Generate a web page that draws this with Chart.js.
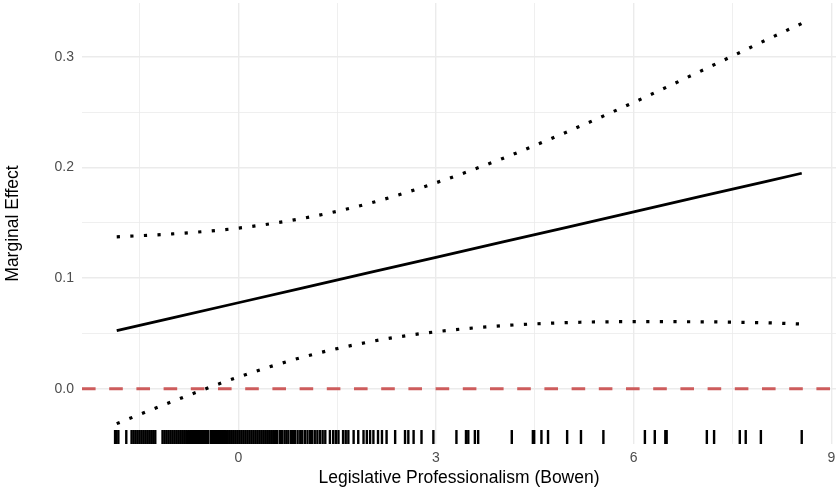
<!DOCTYPE html>
<html>
<head>
<meta charset="utf-8">
<script src="https://cdn.jsdelivr.net/npm/chart.js@4"></script>
<style>
  html, body { margin: 0; padding: 0; background: #fff; }
  canvas { display: block; }
</style>
</head>
<body>
<canvas id="chart" width="836" height="489"></canvas>
<script>
// ===== DATA =====
const xValues = [-1.845, -1, 0, 1, 2, 3, 4, 5, 6, 7, 8, 8.55];
const effect = [0.0525, 0.0641, 0.0777, 0.0914, 0.1051, 0.1187, 0.1324, 0.1461, 0.1598, 0.1735, 0.1871, 0.1947];
const upperCI = [0.1373, 0.1399, 0.1451, 0.1542, 0.1677, 0.1861, 0.2078, 0.2324, 0.2587, 0.2865, 0.3148, 0.3300];
const lowerCI = [-0.0315, -0.0115, 0.0106, 0.0289, 0.0425, 0.0515, 0.0569, 0.0598, 0.0606, 0.0605, 0.0596, 0.0585];

// observed values of the moderator (rug)
const rugX = [
  -1.87, -1.85, -1.82, -1.70, -1.62, -1.59, -1.56, -1.53, -1.50, -1.47, -1.44, -1.41,
  -1.38, -1.35, -1.32, -1.29, -1.26, -1.15, -1.12, -1.09, -1.06, -1.03, -1.00, -0.97,
  -0.94, -0.91, -0.88, -0.85, -0.82, -0.79, -0.76, -0.73, -0.70, -0.67, -0.64, -0.61,
  -0.58, -0.55, -0.52, -0.49, -0.46, -0.42, -0.40, -0.37, -0.34, -0.31, -0.28, -0.25,
  -0.22, -0.19, -0.16, -0.13, -0.10, -0.07, -0.04, -0.01, 0.02, 0.05, 0.08, 0.11,
  0.14, 0.17, 0.20, 0.23, 0.26, 0.29, 0.32, 0.35, 0.38, 0.41, 0.44, 0.47, 0.50, 0.53,
  0.56, 0.59, 0.63, 0.66, 0.70, 0.73, 0.76, 0.80, 0.83, 0.86, 0.90, 0.94, 0.97, 1.01,
  1.05, 1.09, 1.12, 1.16, 1.20, 1.24, 1.28, 1.32, 1.39, 1.44, 1.48, 1.52, 1.59, 1.63,
  1.67, 1.75, 1.82, 1.90, 1.95, 2.00, 2.05, 2.12, 2.18, 2.25, 2.38, 2.53, 2.58, 2.66,
  2.78, 2.96, 3.31, 3.455, 3.49, 3.59, 3.64, 4.15, 4.47, 4.49, 4.60, 4.70, 4.99, 5.20,
  5.54, 6.17, 6.32, 6.48, 6.50, 7.11, 7.22, 7.61, 7.70, 7.93, 8.55
];

const xTicks = [-1.5, 0, 1.5, 3, 4.5, 6, 7.5, 9];
const yTicks = [0, 0.05, 0.1, 0.15, 0.2, 0.25, 0.3];
const xRange = [-2.372, 9.07];
const yRange = [-0.0499, 0.3485];

// ===== HELPERS =====
const pts = (ys) => xValues.map((x, i) => ({ x: x, y: ys[i] }));
const RUG_Y = -0.0436;
const FONT = '"Liberation Sans", Arial, sans-serif';

const isMajorX = v => Math.abs(v % 3) < 1e-9;
const isMajorY = v => Math.abs(Math.round(v * 100) % 10) < 1e-9;

// ===== CHART =====
new Chart(document.getElementById('chart'), {
  type: 'scatter',
  data: {
    datasets: [
      {
        data: [{ x: xRange[0], y: 0 }, { x: 9.3, y: 0 }],
        showLine: true,
        borderColor: '#cd5c5c',
        borderWidth: 3.2,
        borderDash: [13.6, 13.6],
        borderCapStyle: 'butt',
        pointRadius: 0
      },
      {
        data: rugX.map(x => ({ x: x, y: RUG_Y })),
        showLine: false,
        pointStyle: 'line',
        rotation: 90,
        radius: 7,
        borderColor: '#000',
        borderWidth: 2.4
      },
      {
        data: pts(upperCI),
        showLine: true,
        borderColor: '#000',
        borderWidth: 3.2,
        borderDash: [3.2, 10.4],
        borderCapStyle: 'butt',
        cubicInterpolationMode: 'monotone',
        pointRadius: 0
      },
      {
        data: pts(lowerCI),
        showLine: true,
        borderColor: '#000',
        borderWidth: 3.2,
        borderDash: [3.2, 10.4],
        borderCapStyle: 'butt',
        cubicInterpolationMode: 'monotone',
        pointRadius: 0
      },
      {
        data: pts(effect),
        showLine: true,
        borderColor: '#000',
        borderWidth: 2.8,
        pointRadius: 0
      }
    ]
  },
  options: {
    responsive: false,
    animation: false,
    layout: { autoPadding: false, padding: { top: 3, left: 0, right: 0, bottom: 0 } },
    plugins: { legend: { display: false }, tooltip: { enabled: false } },
    scales: {
      x: {
        type: 'linear',
        min: xRange[0],
        max: xRange[1],
        afterBuildTicks: s => { s.ticks = xTicks.map(v => ({ value: v })); },
        afterFit: s => { s.height = 45; s.paddingLeft = 0; s.paddingRight = 0; },
        border: { display: false },
        grid: {
          color: '#ebebeb',
          drawTicks: false,
          lineWidth: c => (c.tick && isMajorX(c.tick.value)) ? 1.4 : 0.8
        },
        ticks: {
          padding: 6,
          color: '#4d4d4d',
          font: { family: FONT, size: 14 },
          maxRotation: 0,
          autoSkip: false,
          callback: v => isMajorX(v) ? String(v) : ''
        },
        title: {
          display: true,
          text: 'Legislative Professionalism (Bowen)',
          color: '#000',
          font: { family: FONT, size: 17.5, lineHeight: 1.2 },
          padding: { top: 0, bottom: 0.5 }
        }
      },
      y: {
        type: 'linear',
        min: yRange[0],
        max: yRange[1],
        afterBuildTicks: s => { s.ticks = yTicks.map(v => ({ value: v })); },
        afterFit: s => { s.width = 82; s.paddingTop = 0; s.paddingBottom = 0; },
        border: { display: false },
        grid: {
          color: '#ebebeb',
          drawTicks: false,
          lineWidth: c => (c.tick && isMajorY(c.tick.value)) ? 1.4 : 0.8
        },
        ticks: {
          padding: 8,
          color: '#4d4d4d',
          font: { family: FONT, size: 14 },
          autoSkip: false,
          callback: v => isMajorY(v) ? v.toFixed(1) : ''
        },
        title: {
          display: true,
          text: 'Marginal Effect',
          color: '#000',
          font: { family: FONT, size: 17.5, lineHeight: 1.2 },
          padding: { top: 3, bottom: 0 }
        }
      }
    }
  }
});
</script>
</body>
</html>
